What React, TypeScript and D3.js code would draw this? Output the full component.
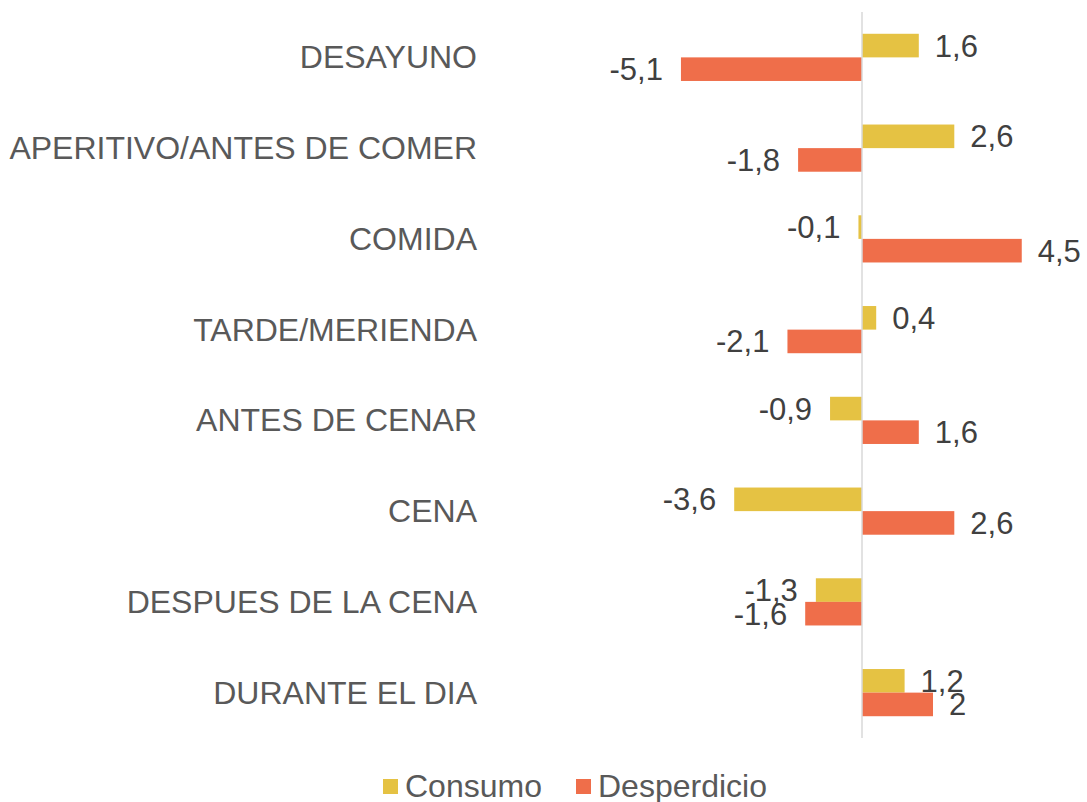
import * as React from "react";
import { scaleBand, scaleLinear } from "d3";

const categories = [
  "DESAYUNO",
  "APERITIVO/ANTES DE COMER",
  "COMIDA",
  "TARDE/MERIENDA",
  "ANTES DE CENAR",
  "CENA",
  "DESPUES DE LA CENA",
  "DURANTE EL DIA",
];
const consumo = [1.6, 2.6, -0.1, 0.4, -0.9, -3.6, -1.3, 1.2];
const desperdicio = [-5.1, -1.8, 4.5, -2.1, 1.6, 2.6, -1.6, 2];
const seriesNames = ["Consumo", "Desperdicio"];
const colours = ["#E5C243", "#EF6E4A"];

const WIDTH = 1087;
const HEIGHT = 802;
const FONT = "'Liberation Sans', Arial, sans-serif";

// comma decimal, plain hyphen minus like the source
const fmt = (v: number) => String(v).replace(".", ",");

export default function App() {
  const x = scaleLinear().domain([-6, 6]).range([649, 1075]);
  const y = scaleBand<string>()
    .domain(categories)
    .range([12, 738])
    .paddingInner(0.48)
    .paddingOuter(0.24);
  const inner = scaleBand<string>()
    .domain(seriesNames)
    .range([0, y.bandwidth()]);

  const series = [consumo, desperdicio];

  return (
    <svg
      width={WIDTH}
      height={HEIGHT}
      style={{ position: "absolute", left: 0, top: 0 }}
      fontFamily={FONT}
    >
      <rect width={WIDTH} height={HEIGHT} fill="white" />
      {series.map((vals, si) =>
        vals.map((v, i) => {
          const y0 = (y(categories[i]) ?? 0) + (inner(seriesNames[si]) ?? 0);
          const x0 = x(Math.min(0, v));
          const w = Math.abs(x(v) - x(0));
          const labelX = v >= 0 ? x(v) + 16 : x(v) - 18;
          return (
            <g key={`${si}-${i}`}>
              <rect
                x={x0}
                y={y0}
                width={w}
                height={inner.bandwidth()}
                fill={colours[si]}
              />
              <text
                x={labelX}
                y={y0 + inner.bandwidth() / 2 + 11}
                textAnchor={v >= 0 ? "start" : "end"}
                fontSize={31}
                fill="#404040"
              >
                {fmt(v)}
              </text>
            </g>
          );
        }),
      )}
      <line
        x1={x(0)}
        x2={x(0)}
        y1={12}
        y2={738}
        stroke="#d9d9d9"
        strokeWidth={1.5}
      />
      {categories.map((c) => (
        <text
          key={c}
          x={477}
          y={(y(c) ?? 0) + y.bandwidth() / 2 + 11}
          textAnchor="end"
          fontSize={32}
          fill="#595959"
        >
          {c}
        </text>
      ))}
      {seriesNames.map((s, i) => {
        const lx = [383, 576][i];
        return (
          <g key={s}>
            <rect x={lx} y={779} width={15} height={15} fill={colours[i]} />
            <text x={lx + 22} y={797} fontSize={32} fill="#595959">
              {s}
            </text>
          </g>
        );
      })}
    </svg>
  );
}
